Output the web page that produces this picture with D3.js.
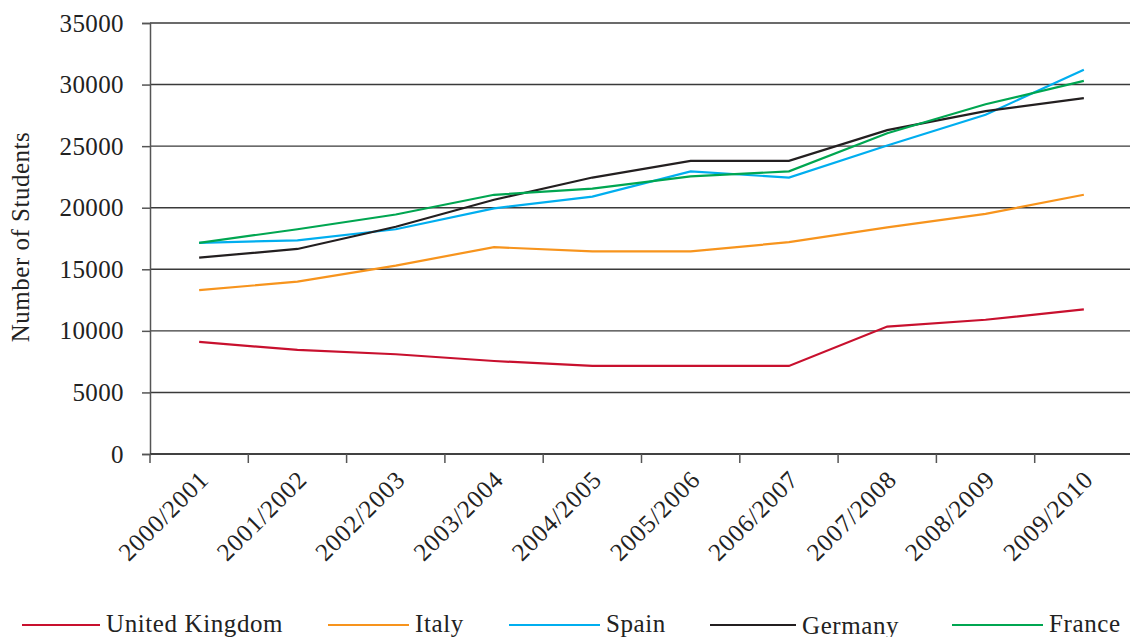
<!DOCTYPE html>
<html>
<head>
<meta charset="utf-8">
<script src="https://cdn.jsdelivr.net/npm/d3@7"></script>
<style>
  body { margin: 0; background: #fff; }
  svg { display: block; font-family: "Liberation Serif", "DejaVu Serif", serif; }
</style>
</head>
<body>
<svg width="1130" height="637"></svg>
<script>
const years = ["2000/2001", "2001/2002", "2002/2003", "2003/2004", "2004/2005",
               "2005/2006", "2006/2007", "2007/2008", "2008/2009", "2009/2010"];
const ukValues      = [9100, 8450, 8100, 7550, 7150, 7150, 7150, 10350, 10900, 11750];
const italyValues   = [13300, 14000, 15300, 16800, 16450, 16450, 17200, 18400, 19500, 21050];
const spainValues   = [17150, 17350, 18250, 19950, 20900, 22950, 22450, 25050, 27550, 31200];
const germanyValues = [15950, 16650, 18450, 20650, 22450, 23800, 23800, 26300, 27850, 28900];
const franceValues  = [17150, 18250, 19450, 21050, 21550, 22550, 22950, 26050, 28400, 30300];
const yTicks = [0, 5000, 10000, 15000, 20000, 25000, 30000, 35000];

const series = [
    { name: "United Kingdom", values: ukValues,      color: "#c8102e" },
    { name: "Italy",          values: italyValues,   color: "#f7941d" },
    { name: "Spain",          values: spainValues,   color: "#00aeef" },
    { name: "Germany",        values: germanyValues, color: "#231f20" },
    { name: "France",         values: franceValues,  color: "#00a651" }
];

const svg = d3.select("svg");
const area = { left: 150, right: 1133, top: 23, bottom: 454 };
const fontSize = 25;

const scaleX = d3.scaleBand().domain(years).range([area.left, area.right]);
const scaleY = d3.scaleLinear().domain([0, 35000]).range([area.bottom, area.top]);

// gridlines
svg.append("g")
    .selectAll("line")
    .data(yTicks)
    .enter()
    .append("line")
    .attr("x1", area.left)
    .attr("x2", 1130)
    .attr("y1", d => scaleY(d))
    .attr("y2", d => scaleY(d))
    .attr("stroke", "#3a3a3a")
    .attr("stroke-width", 1.4);

// y axis
let axisY = d3.axisLeft(scaleY).tickValues(yTicks).tickSize(8).tickPadding(18).tickFormat(d3.format("d"));
let gy = svg.append("g")
    .attr("transform", `translate(${area.left}, 0)`)
    .call(axisY);
gy.select(".domain").attr("stroke", "#555").attr("stroke-width", 1.5);
gy.selectAll(".tick line").attr("stroke", "#555").attr("stroke-width", 1.5);
gy.selectAll("text")
    .attr("font-size", fontSize)
    .attr("fill", "#222")
    .style("font-family", "Liberation Serif")
    .style("letter-spacing", "0.4px");

// x axis: ticks at band boundaries
let gx = svg.append("g").attr("transform", `translate(0, ${area.bottom})`);
gx.append("line").attr("x1", area.left).attr("x2", 1130).attr("stroke", "#333").attr("stroke-width", 1.5);
gx.selectAll(".xtick")
    .data(years)
    .enter()
    .append("line")
    .attr("class", "xtick")
    .attr("x1", d => scaleX(d))
    .attr("x2", d => scaleX(d))
    .attr("y1", 0)
    .attr("y2", 9)
    .attr("stroke", "#555")
    .attr("stroke-width", 1.5);
gx.selectAll(".xlabel")
    .data(years)
    .enter()
    .append("text")
    .attr("class", "xlabel")
    .attr("text-anchor", "end")
    .attr("font-size", fontSize)
    .attr("fill", "#222")
    .style("letter-spacing", "0.9px")
    .attr("transform", d => `translate(${scaleX(d) + scaleX.bandwidth() / 2 + 11}, 27) rotate(-45)`)
    .text(d => d);

// y label
svg.append("text")
    .attr("transform", `translate(29, 237) rotate(-90)`)
    .attr("text-anchor", "middle")
    .attr("font-size", fontSize)
    .attr("fill", "#222")
    .style("letter-spacing", "0.5px")
    .text("Number of Students");

// lines
const line = d3.line()
    .x((d, i) => scaleX(years[i]) + scaleX.bandwidth() / 2)
    .y(d => scaleY(d));

svg.append("g")
    .selectAll("path")
    .data(series)
    .enter()
    .append("path")
    .attr("d", d => line(d.values))
    .attr("fill", "none")
    .attr("stroke", d => d.color)
    .attr("stroke-width", 2.2);

// legend
const legendStart = [22, 328, 509, 710, 952];
const legendEnd = [100, 409, 600, 796, 1043];
let lg = svg.append("g").selectAll("g")
    .data(series)
    .enter()
    .append("g")
    .attr("transform", (d, i) => `translate(${legendStart[i]}, 625)`);
lg.append("line")
    .attr("x1", 0)
    .attr("x2", (d, i) => legendEnd[i] - legendStart[i])
    .attr("stroke", d => d.color)
    .attr("stroke-width", 2.2);
lg.append("text")
    .attr("x", (d, i) => legendEnd[i] - legendStart[i] + 6)
    .attr("y", d => d.name === "Germany" ? 9 : 7)
    .attr("font-size", fontSize)
    .attr("fill", "#222")
    .style("letter-spacing", "0.6px")
    .text(d => d.name);
</script>
</body>
</html>
